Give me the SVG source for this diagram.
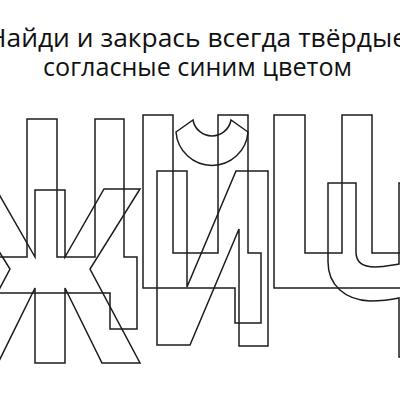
<svg xmlns="http://www.w3.org/2000/svg" width="400" height="400" viewBox="0 0 400 400">
<style>
.t{font-family:"Open Sans","Noto Sans","Liberation Sans",sans-serif;font-size:26px;fill:#111;text-anchor:middle}
.l{fill:none;stroke:#1c1c1c;stroke-width:1.5;stroke-linejoin:miter}
</style>
<rect width="400" height="400" fill="#fff"/>
<g id="title">
<text class="t" x="197" y="47" textLength="420" lengthAdjust="spacingAndGlyphs">Найди и закрась всегда твёрдые</text>
<text class="t" x="197.5" y="76" textLength="309" lengthAdjust="spacingAndGlyphs">согласные синим цветом</text>
</g>
<g id="letter-shch"><path class="l" d="M-41,119H-11V257H27V119H57V257H95V119H124V257H137V329H110V293H-41Z"/></g>
<g id="letter-zh"><path class="l" d="M35,190H65V257L104,189H140L90,269L140,363H102L65,288V363H35V288L-2,363H-40L10,269L-40,189H-4L35,257Z"/></g>
<g id="letter-ts"><path class="l" d="M143,115H173V253H218V115H248V253H261V323H235V288H143Z"/></g>
<g id="letter-yi"><path class="l" d="M157,171H187V287L236,171H268V346H239V229L190,345H157Z"/><path class="l" d="M176,132L193,120A19.3,19.3 0 0 0 231,120L248,132A36.1,36.1 0 0 1 176,132Z"/></g>
<g id="letter-sh"><path class="l" d="M274,115H305V253H342V115H372V253H410V115H440V288H274Z"/></g>
<g id="letter-ch"><path class="l" d="M328,183H356V252C356,262 362,267 375,267C385,267 392,265 399,264V183H430V357H399V298C390,300 383,301 370,301C345,300 328,285 328,262Z"/></g>
</svg>
